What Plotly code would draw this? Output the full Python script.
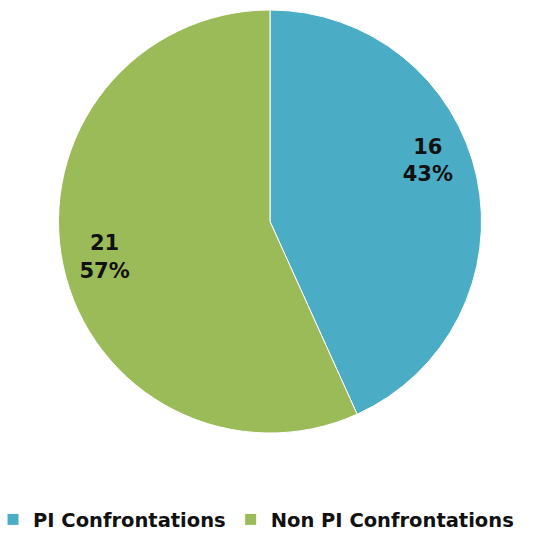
import plotly.graph_objects as go

labels = ["PI Confrontations", "Non PI Confrontations"]
values = [16, 21]
colors = ["#4BACC6", "#9BBB59"]

W, H = 539, 534
pie_dom_x = [58 / W, 482 / W]
label_tpl = "<b>%{value}<br>%{percent:.0%}</b>"

fig = go.Figure()
fig.add_trace(go.Pie(
    labels=labels,
    values=values,
    domain=dict(x=pie_dom_x, y=[0, 1]),
    marker=dict(colors=colors, line=dict(color="white", width=1)),
    sort=False,
    direction="clockwise",
    rotation=0,
    textinfo="none",
    hoverinfo="label+value+percent",
))

# transparent label rings: labels sit near the outer part of each slice
# (one ring per slice so each label can be nudged independently)
for i, rot in enumerate([-9, 0]):
    tpl = [label_tpl if j == i else "" for j in range(len(values))]
    fig.add_trace(go.Pie(
        labels=labels,
        values=values,
        domain=dict(x=pie_dom_x, y=[0, 1]),
        hole=0.6,
        marker=dict(colors=["rgba(0,0,0,0)"] * len(values), line=dict(width=0)),
        sort=False,
        direction="clockwise",
        rotation=rot,
        texttemplate=tpl,
        textposition="inside",
        insidetextorientation="horizontal",
        textfont=dict(family="DejaVu Sans", size=21, color="#111111"),
        showlegend=False,
        hoverinfo="skip",
    ))

fig.update_layout(
    width=W, height=H,
    margin=dict(l=0, r=0, t=10, b=101, autoexpand=False),
    paper_bgcolor="white",
    plot_bgcolor="white",
    showlegend=True,
    legend=dict(
        orientation="h",
        x=-7 / W, xanchor="left",
        y=-0.205, yanchor="middle",
        font=dict(family="DejaVu Sans", size=19.5, color="#111111", weight="bold"),
    ),
)

fig.write_html("out.html", config={"displayModeBar": False},
               post_script="document.body.style.margin='0';")
